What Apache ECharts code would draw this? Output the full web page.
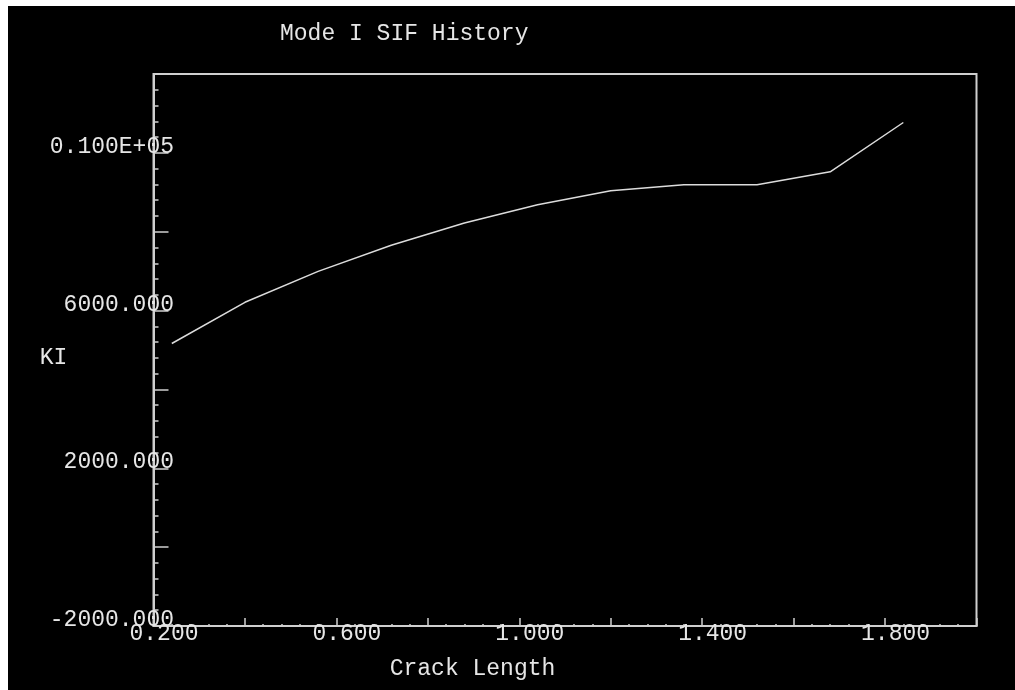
<!DOCTYPE html>
<html>
<head>
<meta charset="utf-8">
<title>Mode I SIF History</title>
<script src="https://cdn.jsdelivr.net/npm/echarts@6/dist/echarts.min.js"></script>
<style>
  html, body { margin: 0; padding: 0; background: #ffffff; }
  #chart { position: absolute; left: 8px; top: 6px; width: 1007px; height: 684px; }
</style>
</head>
<body>
<div id="chart"></div>
<script>
// Stress intensity factor history along the crack
const crackLength = [0.24, 0.40, 0.56, 0.72, 0.88, 1.04, 1.20, 1.36, 1.52, 1.68, 1.84];
const kI = [5165, 6210, 6995, 7655, 8220, 8685, 9040, 9190, 9190, 9520, 10770];

// Labelled ticks
const xTickValues = [0.2, 0.6, 1.0, 1.4, 1.8];
const xTickLabels = ['0.200', '0.600', '1.000', '1.400', '1.800'];
const yTickValues = [-2000, 2000, 6000, 10000];
const yTickLabels = ['-2000.000', '2000.000', '6000.000', '0.100E+05'];

const FONT = '"Liberation Mono", "DejaVu Sans Mono", monospace';
const TEXT = '#e6e6e6';
const FRAME = '#cfcfcf';

function lookup(values, labels, v) {
  for (let i = 0; i < values.length; i++) {
    if (Math.abs(values[i] - v) < 1e-6) return labels[i];
  }
  return '';
}

const chart = echarts.init(document.getElementById('chart'));
chart.setOption({
  backgroundColor: '#000000',
  animation: false,
  title: {
    text: 'Mode I SIF History',
    left: 272,
    top: 16,
    padding: 0,
    textStyle: { color: TEXT, fontFamily: FONT, fontSize: 23, fontWeight: 'normal', lineHeight: 23 }
  },
  grid: {
    left: 145.5, right: 38.5, top: 68, bottom: 64,
    show: true, borderColor: FRAME, borderWidth: 2, backgroundColor: 'transparent'
  },
  xAxis: {
    type: 'value',
    min: 0.2, max: 2.0, interval: 0.2,
    name: 'Crack Length',
    nameLocation: 'middle',
    nameGap: 43,
    nameMoveOverlap: false,
    nameTextStyle: {
      color: TEXT, fontFamily: FONT, fontSize: 23, lineHeight: 23,
      align: 'center', verticalAlign: 'middle', padding: [0, 185, 0, 0]
    },
    axisLine: { show: true, onZero: false, lineStyle: { color: FRAME, width: 2 } },
    axisTick: { show: true, inside: true, length: 8, lineStyle: { color: FRAME, width: 1.5 } },
    minorTick: { show: true, splitNumber: 5, length: 2, lineStyle: { color: FRAME, width: 1.5 } },
    splitLine: { show: false },
    axisLabel: {
      color: TEXT, fontFamily: FONT, fontSize: 23, lineHeight: 23,
      margin: 8, verticalAlign: 'middle', padding: [0, 0, 0, 21],
      showMinLabel: true, showMaxLabel: true,
      formatter: v => lookup(xTickValues, xTickLabels, v)
    }
  },
  yAxis: {
    type: 'value',
    min: -2000, max: 12000, interval: 2000,
    name: 'KI',
    nameLocation: 'middle',
    nameRotate: 0,
    nameGap: 100,
    nameMoveOverlap: false,
    nameTextStyle: {
      color: TEXT, fontFamily: FONT, fontSize: 23, lineHeight: 16,
      align: 'center', verticalAlign: 'top'
    },
    axisLine: { show: true, onZero: false, lineStyle: { color: FRAME, width: 2 } },
    axisTick: { show: true, inside: true, length: 15, lineStyle: { color: FRAME, width: 1.5 } },
    minorTick: { show: true, splitNumber: 5, length: 5, lineStyle: { color: FRAME, width: 1.5 } },
    splitLine: { show: false },
    axisLabel: {
      color: TEXT, fontFamily: FONT, fontSize: 23, lineHeight: 12,
      margin: -20.5, align: 'right', verticalAlign: 'bottom',
      showMinLabel: true, showMaxLabel: true,
      formatter: v => lookup(yTickValues, yTickLabels, v)
    }
  },
  series: [{
    type: 'line',
    data: crackLength.map((x, i) => [x, kI[i]]),
    showSymbol: false,
    lineStyle: { color: '#dcdcdc', width: 1.5 },
    clip: false
  }]
});
</script>
</body>
</html>
